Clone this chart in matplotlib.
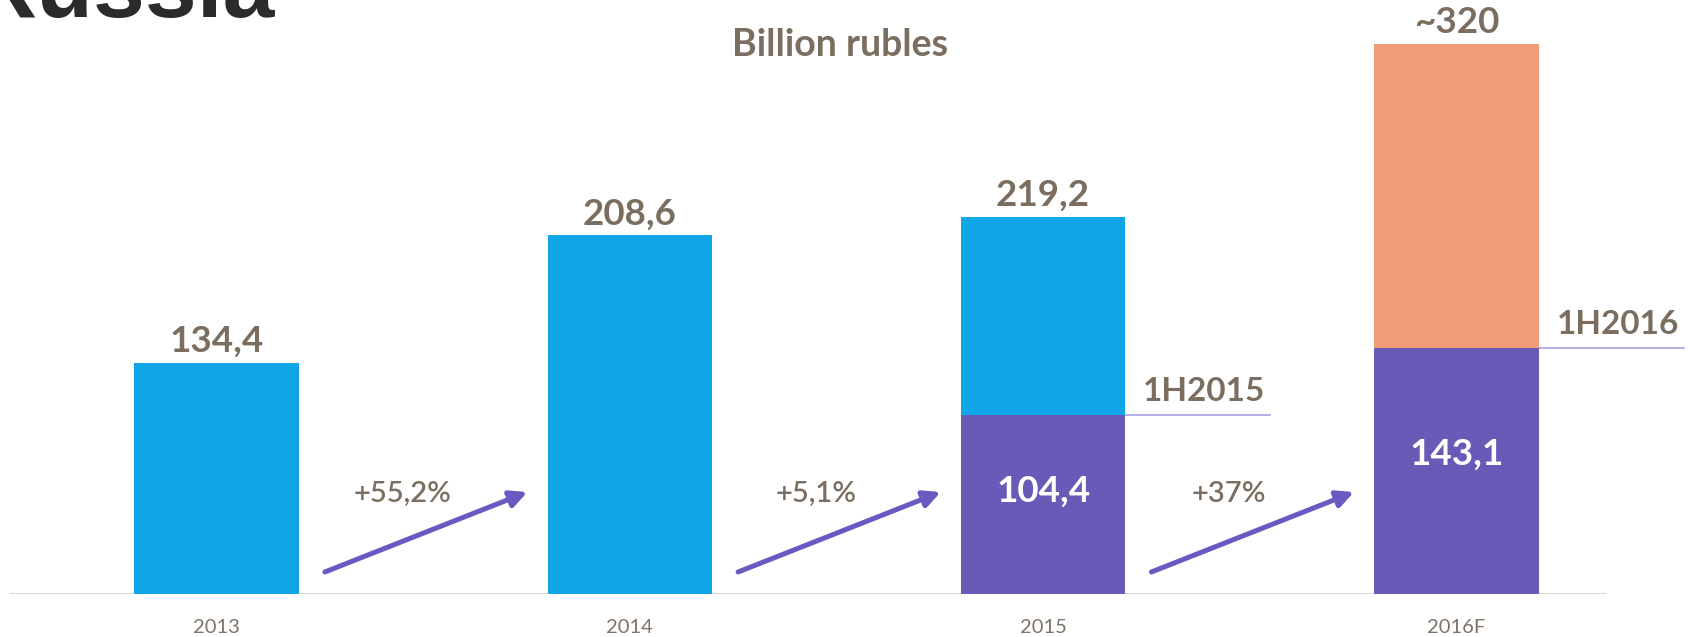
import matplotlib
matplotlib.use("Agg")
import matplotlib.pyplot as plt

# Annual volume, billion rubles
years = ["2013", "2014", "2015", "2016F"]
full_year = [134.4, 208.6, 219.2, 320]
full_year_labels = ["134,4", "208,6", "219,2", "~320"]
# First-half volume for the last two periods
half_idx = [2, 3]
first_half = [104.4, 143.1]
first_half_labels = ["104,4", "143,1"]
half_tags = ["1H2015", "1H2016"]
# Growth between neighbouring periods
growth = ["+55,2%", "+5,1%", "+37%"]

BLUE = "#0fa6e8"
PURPLE = "#685bb7"
ORANGE = "#f09c78"
ARROW = "#6a59c0"
TEXT = "#7b6e60"
TICK = "#7f7468"
GUIDE = "#a99fe0"
FONT = "Lato"

full_colors = [BLUE, BLUE, BLUE, ORANGE]

fig = plt.figure(figsize=(16.92, 6.37), dpi=100)
fig.patch.set_facecolor("white")
ax = fig.add_axes([0, 43 / 637, 1, 594 / 637])

xs = list(range(len(years)))
bar_w = 0.398

ax.bar(xs, full_year, width=bar_w, color=full_colors, zorder=2)
ax.bar(half_idx, first_half, width=bar_w, color=PURPLE, zorder=3)

# totals above the bars
for i, (v, lab) in enumerate(zip(full_year, full_year_labels)):
    ax.annotate(lab, (i, v), xytext=(0, 8), textcoords="offset points",
                ha="center", va="baseline", fontsize=26.5, fontweight="bold",
                color=TEXT, family=FONT)

# first-half values inside the purple parts, with guide line and tag
for i, v, lab, tag in zip(half_idx, first_half, first_half_labels, half_tags):
    ax.text(i, v * 0.57, lab, ha="center", va="center", fontsize=26.5,
            fontweight="bold", color="white", family=FONT, zorder=4)
    ax.plot([i + bar_w / 2, i + 0.55], [v, v], color=GUIDE, lw=1.2,
            clip_on=False, zorder=1)
    ax.annotate(tag, (i + 0.39, v), xytext=(0, 10), textcoords="offset points",
                ha="center", va="baseline", fontsize=24, fontweight="bold",
                color=TEXT, family=FONT)

# growth arrows between the bars
for k, g in enumerate(growth):
    ax.annotate("", xy=(k + 0.752, 59.3), xytext=(k + 0.262, 12.8),
                arrowprops=dict(arrowstyle="-|>", color=ARROW, lw=3.6,
                                mutation_scale=25, shrinkA=0, shrinkB=0))
    ax.text(k + 0.45, 58.2, g, ha="center", va="center", fontsize=21,
            fontweight=600, color=TEXT, family=FONT)

ax.set_xlim(-0.524, 3.570)
ax.set_ylim(0, 345.6)
ax.axhline(0, xmin=11 / 1692, xmax=1605 / 1692, color="#d9d9d9", lw=1.5,
           zorder=1)

ax.set_xticks(xs, years)
ax.tick_params(axis="x", length=0, pad=18, labelsize=14.5, labelcolor=TICK)
for t in ax.get_xticklabels():
    t.set_family(FONT)
ax.set_yticks([])
for s in ax.spines.values():
    s.set_visible(False)
ax.patch.set_alpha(0)

fig.text(840 / 1692, 1 - 45 / 637, "Billion rubles", ha="center", va="center",
         fontsize=27, fontweight="bold", color=TEXT, family=FONT)
fig.text(-30 / 1692, 620 / 637, "Russia", ha="left", va="baseline",
         fontsize=67, fontweight="bold", color="#2b2b2b",
         family="Liberation Sans")

fig.savefig("out.png", dpi=100)
